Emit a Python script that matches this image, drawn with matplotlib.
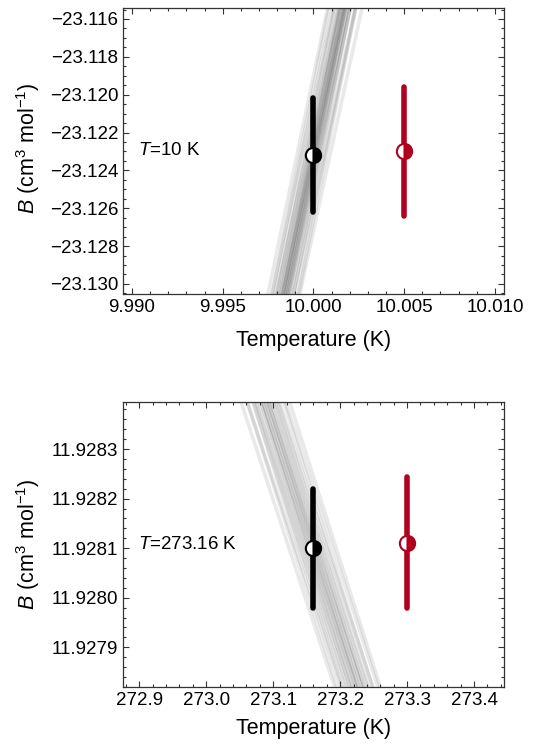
import numpy as np
import matplotlib
matplotlib.use("Agg")
import matplotlib.pyplot as plt
from matplotlib.ticker import MultipleLocator, FuncFormatter

plt.rcParams['font.family'] = ['Liberation Sans', 'DejaVu Sans']
plt.rcParams['mathtext.fontset'] = 'custom'
plt.rcParams['mathtext.rm'] = 'Liberation Sans'
plt.rcParams['mathtext.it'] = 'Liberation Sans:italic'

# ---------------- data ----------------
# Panel 1: T = 10 K
top_T_points = [10.000, 10.005]
top_B_points = [-23.1232, -23.1230]
top_B_err = [0.0030, 0.0034]
top_T0 = 10.000
top_B0 = -23.1232
top_line_offsets = [-0.0040, -0.0034, -0.0029, -0.0024, -0.0020, -0.0016, -0.0013,
                    -0.0010, -0.0008, -0.0006, -0.0004, -0.0002, 0.0000, 0.0001,
                    0.0003, 0.0005, 0.0007, 0.0009, 0.0011, 0.0014, 0.0017,
                    0.0021, 0.0025, 0.0030, 0.0036, 0.0042]
top_line_slopes = [4.40, 4.80, 4.60, 4.45, 4.85, 4.62, 4.50, 4.70, 4.52, 4.76,
                   4.60, 4.64, 4.58, 4.68, 4.48, 4.62, 4.78, 4.55, 4.66, 4.60,
                   4.42, 4.74, 4.63, 4.50, 4.82, 4.60]
top_xlim = (9.9895, 10.0105)
top_ylim = (-23.13053, -23.11542)
top_label = "$T$=10 K"

# Panel 2: T = 273.16 K
bot_T_points = [273.16, 273.30]
bot_B_points = [11.92810, 11.928111]
bot_B_err = [0.000120, 0.000132]
bot_T0 = 273.16
bot_B0 = 11.92810
bot_line_offsets = [-0.000150, -0.000128, -0.000110, -0.000095, -0.000081, -0.000068,
                    -0.000056, -0.000045, -0.000035, -0.000026, -0.000017, -0.000008,
                    0.000000, 0.000008, 0.000016, 0.000025, 0.000035, 0.000046,
                    0.000058, 0.000071, 0.000086, 0.000103, 0.000122, 0.000145]
bot_line_slopes = [-0.00412, -0.00428, -0.00410, -0.00432, -0.00418, -0.00424,
                   -0.00412, -0.00430, -0.00418, -0.00425, -0.00413, -0.00422,
                   -0.00420, -0.00428, -0.00410, -0.00423, -0.00415, -0.00431,
                   -0.00418, -0.00426, -0.00412, -0.00434, -0.00417, -0.00425]
bot_xlim = (272.8756, 273.4448)
bot_ylim = (11.92782, 11.928395)
bot_label = "$T$=273.16 K"

colors = ['black', '#b0001e']

fig = plt.figure(figsize=(5.38, 7.48), dpi=100)
ax1 = fig.add_axes([0.2286, 0.6070, 0.7082, 0.3823])
ax2 = fig.add_axes([0.2286, 0.0816, 0.7082, 0.3810])


def fmt(decimals):
    def f(v, pos):
        s = f"{v:.{decimals}f}"
        return s.replace('-', '\u2212')
    return FuncFormatter(f)


def draw(ax, Tp, Bp, Be, T0, B0, offs, slopes, xlim, ylim, label):
    xs = np.array(xlim)
    for o, s in zip(offs, slopes):
        ax.plot(xs, B0 + o + s * (xs - T0), color='black', alpha=0.085, lw=2.6,
                solid_capstyle='butt', zorder=1)
    for t, b, e, c in zip(Tp, Bp, Be, colors):
        eb = ax.errorbar([t], [b], yerr=[e], fmt='none', ecolor=c, elinewidth=4.0,
                         capsize=0, zorder=3)
        for coll in eb[2]:
            coll.set_capstyle('round')
        ax.plot([t], [b], marker='o', ms=11, mfc=c, mfcalt='white', fillstyle='right',
                mec=c, mew=1.5, ls='none', zorder=4)
    ax.set_xlim(xlim)
    ax.set_ylim(ylim)
    ax.text(0.04, 0.5, label, transform=ax.transAxes, fontsize=13.5, ha='left',
            va='center')
    ax.tick_params(which='both', direction='in', top=True, right=True,
                   labelsize=13.5, width=0.8, color='#333333')
    ax.tick_params(which='major', length=4.5, pad=3.5)
    ax.tick_params(which='minor', length=2.5)
    for sp in ax.spines.values():
        sp.set_linewidth(0.9)
        sp.set_color('#333333')
    ax.set_xlabel("Temperature (K)", fontsize=15.5, va='center')
    ax.set_ylabel("$B$ (cm$^3$ mol$^{-1}$)", fontsize=15.5, va='center')


draw(ax1, top_T_points, top_B_points, top_B_err, top_T0, top_B0,
     top_line_offsets, top_line_slopes, top_xlim, top_ylim, top_label)
draw(ax2, bot_T_points, bot_B_points, bot_B_err, bot_T0, bot_B0,
     bot_line_offsets, bot_line_slopes, bot_xlim, bot_ylim, bot_label)

ax1.xaxis.set_major_locator(MultipleLocator(0.005))
ax1.xaxis.set_minor_locator(MultipleLocator(0.001))
ax1.xaxis.set_major_formatter(fmt(3))
ax1.yaxis.set_major_locator(MultipleLocator(0.002))
ax1.yaxis.set_minor_locator(MultipleLocator(0.0005))
ax1.yaxis.set_major_formatter(fmt(3))
ax1.xaxis.set_label_coords(0.5, -0.161)
ax1.yaxis.set_label_coords(-0.25, 0.51)

ax2.xaxis.set_major_locator(MultipleLocator(0.1))
ax2.xaxis.set_minor_locator(MultipleLocator(0.02))
ax2.xaxis.set_major_formatter(fmt(1))
ax2.yaxis.set_major_locator(MultipleLocator(0.0001))
ax2.yaxis.set_minor_locator(MultipleLocator(0.00002))
ax2.yaxis.set_major_formatter(fmt(4))
ax2.xaxis.set_label_coords(0.5, -0.147)
ax2.yaxis.set_label_coords(-0.25, 0.5)

fig.savefig("out.png", dpi=100)
